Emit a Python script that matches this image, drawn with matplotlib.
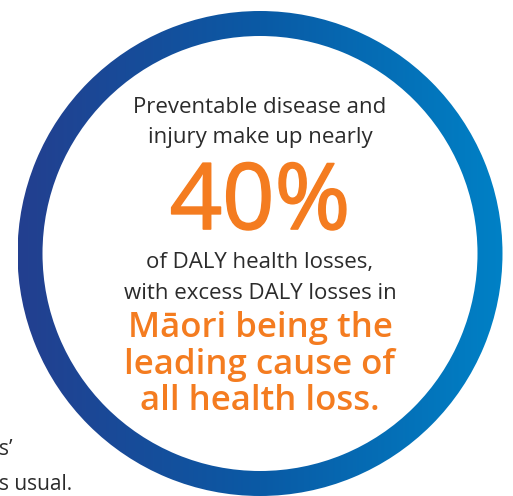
import numpy as np
import matplotlib.pyplot as plt
import matplotlib.patheffects as pe
from matplotlib.patches import Wedge
from matplotlib.colors import LinearSegmentedColormap

# Text content
intro_lines = ["Preventable disease and", "injury make up nearly"]
headline = "40%"
middle_lines = ["of DALY health losses,", "with excess DALY losses in"]
emph_lines = ["Māori being the", "leading cause of", "all health loss."]
side_lines = ["s\u2019", "s usual."]

# Ring gradient colours (left -> right)
ring_colors = ["#233f8f", "#0a5aa5", "#0081c6"]

W, H = 513, 496
fig = plt.figure(figsize=(W / 100, H / 100), dpi=100)
ax = fig.add_axes([0, 0, 1, 1])
ax.set_xlim(0, W)
ax.set_ylim(H, 0)
ax.axis('off')

cx, cy = 260, 253.5
r_out, ring_w = 242.5, 25

# Horizontal gradient clipped to the ring
cmap = LinearSegmentedColormap.from_list('ring', ring_colors)
grad = np.linspace(0, 1, 256).reshape(1, -1)
img = ax.imshow(grad, cmap=cmap, aspect='auto',
                extent=[cx - r_out, cx + r_out, cy + r_out, cy - r_out], zorder=1)
ring = Wedge((cx, cy), r_out, 0, 360, width=ring_w, transform=ax.transData)
img.set_clip_path(ring)

dark = "#2b2b2b"
orange = "#f47c20"
font = "Open Sans"

for i, line in enumerate(intro_lines):
    ax.text(cx, 113 + i * 30, line, ha='center', va='baseline',
            fontsize=16, color=dark, family=font)

# slightly thickened strokes for the big number
ax.text(cx, 229, headline, ha='center', va='baseline',
        fontsize=66, color=orange, family=font,
        path_effects=[pe.withStroke(linewidth=1.2, foreground=orange)])

for i, line in enumerate(middle_lines):
    ax.text(cx, 268 + i * 31, line, ha='center', va='baseline',
            fontsize=16, color=dark, family=font)

for i, line in enumerate(emph_lines):
    ax.text(cx, 337 + i * 36.5, line, ha='center', va='baseline',
            fontsize=25, color=orange, family=font, fontweight='semibold')

for i, line in enumerate(side_lines):
    ax.text(-1, 455 + i * 35, line, ha='left', va='baseline',
            fontsize=15, color=dark, family=font)

fig.savefig('out.png', dpi=100)
